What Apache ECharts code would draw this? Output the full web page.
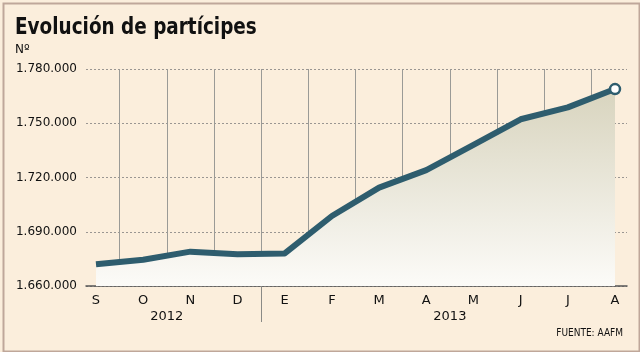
<!DOCTYPE html>
<html>
<head>
<meta charset="utf-8">
<title>Evolución de partícipes</title>
<script src="https://cdn.jsdelivr.net/npm/echarts@6/dist/echarts.min.js"></script>
<style>
  html, body { margin: 0; padding: 0; background: #fbeedc; }
  #chart { width: 640px; height: 352px; }
</style>
</head>
<body>
<div id="chart"></div>
<script>
// datos
var meses = ['S', 'O', 'N', 'D', 'E', 'F', 'M', 'A', 'M', 'J', 'J', 'A'];
var participes = [1672000, 1674500, 1679000, 1677500, 1678000, 1698700,
                  1714400, 1724100, 1738000, 1752200, 1758800, 1768900];
var anios = ['2012', '2013'];
var aniosPos = [1.5, 7.5];     // centro de cada año, en indice de mes
var corteAnio = 3.5;           // separador entre D y E
var yMin = 1660000, yMax = 1780000, yPaso = 30000;

var fuente = 'DejaVu Sans';
var chart = echarts.init(document.getElementById('chart'));

function puntos(v) {
    return String(v).replace(/\B(?=(\d{3})+(?!\d))/g, '.');
}

var option = {
    backgroundColor: '#fbeedc',
    animation: false,
    grid: [
        { left: 86, right: 13, top: 69, bottom: 66 },      // ejes y lineas horizontales
        { left: 72.4, right: 1.4, top: 69, bottom: 66 }     // serie y lineas verticales
    ],
    xAxis: [
        {
            gridIndex: 0, type: 'category', data: meses,
            axisLine: { lineStyle: { color: '#555', width: 1.5 } },
            axisTick: { show: false }, axisLabel: { show: false }, splitLine: { show: false }
        },
        {
            gridIndex: 1, type: 'category', data: meses, boundaryGap: true,
            axisLine: { show: false },
            axisTick: { show: false },
            axisLabel: { color: '#111', fontFamily: fuente, fontSize: 13, margin: 8 },
            splitLine: {
                show: true, showMinLine: false, showMaxLine: false,
                lineStyle: { color: '#9a9a96', width: 1 }
            }
        },
        {
            // años y separador
            gridIndex: 1, type: 'value', min: -0.5, max: meses.length - 0.5,
            position: 'bottom',
            axisLine: { show: false },
            axisTick: {
                show: true, length: 36, customValues: [corteAnio],
                lineStyle: { color: '#8a8a86' }
            },
            axisLabel: {
                color: '#111', fontFamily: fuente, fontSize: 13, margin: 24,
                customValues: aniosPos,
                formatter: function (v) { return anios[aniosPos.indexOf(v)]; }
            },
            splitLine: { show: false }
        }
    ],
    yAxis: [
        {
            gridIndex: 0, type: 'value', min: yMin, max: yMax, interval: yPaso,
            axisLine: { show: false }, axisTick: { show: false },
            axisLabel: {
                color: '#111', fontFamily: fuente, fontSize: 12, margin: 9,
                formatter: puntos
            },
            splitLine: { lineStyle: { color: '#9a9692', type: [2, 2], width: 1 } }
        },
        {
            gridIndex: 1, type: 'value', min: yMin, max: yMax, interval: yPaso,
            show: false, splitLine: { show: false }
        }
    ],
    series: [{
        type: 'line',
        xAxisIndex: 1, yAxisIndex: 1,
        data: participes,
        lineStyle: { color: '#2e5d6e', width: 6, join: 'round' },
        symbol: 'circle',
        symbolSize: function (v, p) { return p.dataIndex === participes.length - 1 ? 10 : 0; },
        showSymbol: true,
        itemStyle: { color: '#ffffff', borderColor: '#2e5d6e', borderWidth: 2.5 },
        areaStyle: {
            color: {
                type: 'linear', x: 0, y: 0, x2: 0, y2: 1,
                colorStops: [
                    { offset: 0, color: '#d8d4be' },
                    { offset: 1, color: '#fcfbf8' }
                ]
            },
            opacity: 1
        },
        z: 5
    }],
    graphic: [
        {
            type: 'rect', left: 1, top: 1, silent: true,
            shape: { width: 636, height: 348 },
            style: { fill: 'none', stroke: '#bfa79a', lineWidth: 2 }
        },
        {
            type: 'text', x: 15, y: 17, scaleX: 0.89,
            style: { text: 'Evolución de partícipes', font: 'bold 23px "DejaVu Sans Condensed", "DejaVu Sans"', fill: '#111' }
        },
        {
            type: 'text', left: 15, top: 44,
            style: { text: 'Nº', font: '12px ' + fuente, fill: '#111' }
        },
        {
            type: 'text', x: 623, y: 333,
            style: { text: 'FUENTE: AAFM', font: '10px "DejaVu Sans Condensed", "DejaVu Sans"', fill: '#111', align: 'right', verticalAlign: 'middle' }
        }
    ]
};

chart.setOption(option);
</script>
</body>
</html>
